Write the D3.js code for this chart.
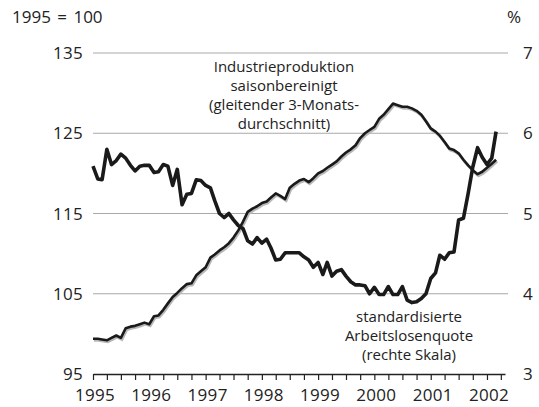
<!DOCTYPE html>
<html>
<head>
<meta charset="utf-8">
<script src="https://cdn.jsdelivr.net/npm/d3@7"></script>
<style>
    body { margin: 0; background: #fff; }
    text { font-family: "Open Sans", sans-serif; fill: #222; }
</style>
</head>
<body>
<div id="chart"></div>
<script>
// monthly values, Jan 1995 - Mar 2002
const firstMonth = new Date(1995, 0, 1);

const industrie = [
    99.4, 99.4, 99.3, 99.2, 99.5, 99.8, 99.5, 100.7, 100.9, 101.0, 101.2, 101.4,
    101.2, 102.2, 102.3, 103.0, 103.8, 104.6, 105.1, 105.7, 106.2, 106.3, 107.3, 107.8,
    108.3, 109.5, 109.9, 110.4, 110.8, 111.3, 112.0, 112.9, 114.0, 115.2, 115.6, 115.9,
    116.3, 116.5, 117.0, 117.5, 117.2, 116.8, 118.2, 118.7, 119.1, 119.3, 118.9, 119.4,
    120.0, 120.3, 120.7, 121.1, 121.5, 122.1, 122.6, 123.0, 123.5, 124.4, 125.0, 125.4,
    125.8, 126.8, 127.3, 128.0, 128.7, 128.5, 128.3, 128.3, 128.1, 127.8, 127.3, 126.5,
    125.6, 125.2, 124.7, 123.9, 123.1, 122.9, 122.5, 121.7, 121.0, 120.4, 119.9, 120.2,
    120.7, 121.2, 121.7
];

const arbeitslos = [
    5.59, 5.43, 5.42, 5.80, 5.61, 5.66, 5.74, 5.69, 5.60, 5.53, 5.59, 5.60,
    5.60, 5.51, 5.52, 5.61, 5.59, 5.35, 5.55, 5.11, 5.24, 5.25, 5.42, 5.41,
    5.35, 5.32, 5.16, 5.00, 4.95, 5.00, 4.92, 4.85, 4.81, 4.66, 4.62, 4.70,
    4.63, 4.68, 4.57, 4.42, 4.43, 4.51, 4.51, 4.51, 4.51, 4.46, 4.42, 4.33,
    4.39, 4.24, 4.39, 4.22, 4.28, 4.30, 4.22, 4.15, 4.11, 4.11, 4.10, 4.00,
    4.08, 3.99, 3.99, 4.09, 3.99, 3.99, 4.09, 3.92, 3.89, 3.90, 3.94, 4.00,
    4.19, 4.26, 4.48, 4.43, 4.51, 4.52, 4.92, 4.94, 5.25, 5.58, 5.82, 5.70,
    5.61, 5.69, 6.02
];

const leftTicks = [95, 105, 115, 125, 135];
const rightTicks = [3, 4, 5, 6, 7];
const yearLabels = [1995, 1996, 1997, 1998, 1999, 2000, 2001, 2002];
const labelIndustrie = ["Industrieproduktion", "saisonbereinigt", "(gleitender 3-Monats-", "durchschnitt)"];
const labelArbeitslos = ["standardisierte", "Arbeitslosenquote", "(rechte Skala)"];


class DualAxisVis {

    constructor(parentElement) {
        this.parentElement = parentElement;
        this.initVis()
    }

    initVis() {
        let vis = this;

        vis.margin = {top: 53, right: 31, bottom: 33, left: 93};
        vis.width = 539 - vis.margin.left - vis.margin.right;
        vis.height = 407 - vis.margin.top - vis.margin.bottom;

        vis.svg = d3.select("#" + vis.parentElement).append("svg")
            .attr("width", 539)
            .attr("height", 407)

        vis.g = vis.svg.append("g")
            .attr("transform", `translate(${vis.margin.left}, ${vis.margin.top})`);

        // axis line ends a bit after april 2002
        vis.x = d3.scaleTime()
            .domain([firstMonth, new Date(2002, 3, 28)])
            .range([0, 412]);

        vis.yLeft = d3.scaleLinear().domain([95, 135]).range([vis.height, 0]);
        vis.yRight = d3.scaleLinear().domain([3, 7]).range([vis.height, 0]);

        vis.wrangleData()
    }

    wrangleData() {
        let vis = this;

        vis.ipData = industrie.map((v, i) => ({date: d3.timeMonth.offset(firstMonth, i), value: v}));
        vis.alData = arbeitslos.map((v, i) => ({date: d3.timeMonth.offset(firstMonth, i), value: v}));

        vis.updateVis()
    }

    updateVis() {
        let vis = this;

        // grid lines
        vis.g.selectAll(".grid")
            .data(leftTicks.slice(1))
            .enter().append("line")
            .attr("class", "grid")
            .attr("x1", 0)
            .attr("x2", vis.width)
            .attr("y1", d => vis.yLeft(d))
            .attr("y2", d => vis.yLeft(d))
            .style("stroke", "#a9a9a9")
            .style("stroke-width", 1);

        // left labels
        vis.g.selectAll(".left-label")
            .data(leftTicks)
            .enter().append("text")
            .attr("class", "left-label")
            .attr("x", -10)
            .attr("y", d => vis.yLeft(d))
            .attr("dy", "0.36em")
            .attr("text-anchor", "end")
            .style("font-size", "17px")
            .style("letter-spacing", "0.3px")
            .text(d => d);

        // right labels
        vis.g.selectAll(".right-label")
            .data(rightTicks)
            .enter().append("text")
            .attr("class", "right-label")
            .attr("x", vis.width + 15)
            .attr("y", d => vis.yRight(d))
            .attr("dy", "0.36em")
            .style("font-size", "17px")
            .text(d => d);

        // x axis, quarterly ticks
        let xAxis = d3.axisBottom(vis.x)
            .ticks(d3.timeMonth.every(3))
            .tickSize(6)
            .tickSizeOuter(0)
            .tickFormat("");

        let axisG = vis.g.append("g")
            .attr("transform", `translate(0, ${vis.height})`)
            .call(xAxis);
        axisG.select(".domain").style("stroke", "#222").style("stroke-width", 1.3);
        axisG.selectAll(".tick line").style("stroke", "#222").style("stroke-width", 1.2);

        vis.g.selectAll(".year-label")
            .data(yearLabels)
            .enter().append("text")
            .attr("class", "year-label")
            .attr("x", d => vis.x(new Date(d, 0, 1)) + 2)
            .attr("y", vis.height + 27)
            .attr("text-anchor", "middle")
            .style("font-size", "17px")
            .style("letter-spacing", "0.3px")
            .text(d => d);

        // unit labels
        vis.svg.append("text")
            .attr("x", 12)
            .attr("y", 23)
            .style("font-size", "17px")
            .style("word-spacing", "2px")
            .text("1995 = 100");

        vis.svg.append("text")
            .attr("x", 507)
            .attr("y", 23)
            .style("font-size", "17px")
            .text("%");

        // lines
        let ipLine = d3.line()
            .x(d => vis.x(d.date))
            .y(d => vis.yLeft(d.value));

        let alLine = d3.line()
            .x(d => vis.x(d.date))
            .y(d => vis.yRight(d.value));

        vis.g.append("path")
            .datum(vis.ipData)
            .attr("d", ipLine)
            .attr("transform", "translate(1,1.5)")
            .style("fill", "none")
            .style("stroke", "#b8b8b8")
            .style("stroke-width", 3);

        vis.g.append("path")
            .datum(vis.ipData)
            .attr("d", ipLine)
            .style("fill", "none")
            .style("stroke", "#1a1a1a")
            .style("stroke-width", 2.6)
            .style("stroke-linejoin", "round");

        vis.g.append("path")
            .datum(vis.alData)
            .attr("d", alLine)
            .style("fill", "none")
            .style("stroke", "#1a1a1a")
            .style("stroke-width", 3.6)
            .style("stroke-linejoin", "round");

        // annotations
        vis.svg.selectAll(".ip-note")
            .data(labelIndustrie)
            .enter().append("text")
            .attr("class", "ip-note")
            .attr("x", 284)
            .attr("y", (d, i) => 72 + i * 19)
            .attr("text-anchor", "middle")
            .style("font-size", "15px")
            .text(d => d);

        vis.svg.selectAll(".al-note")
            .data(labelArbeitslos)
            .enter().append("text")
            .attr("class", "al-note")
            .attr("x", 409)
            .attr("y", (d, i) => 322 + i * 19)
            .attr("text-anchor", "middle")
            .style("font-size", "15px")
            .text(d => d);
    }
}

let chart = new DualAxisVis("chart");
</script>
</body>
</html>
